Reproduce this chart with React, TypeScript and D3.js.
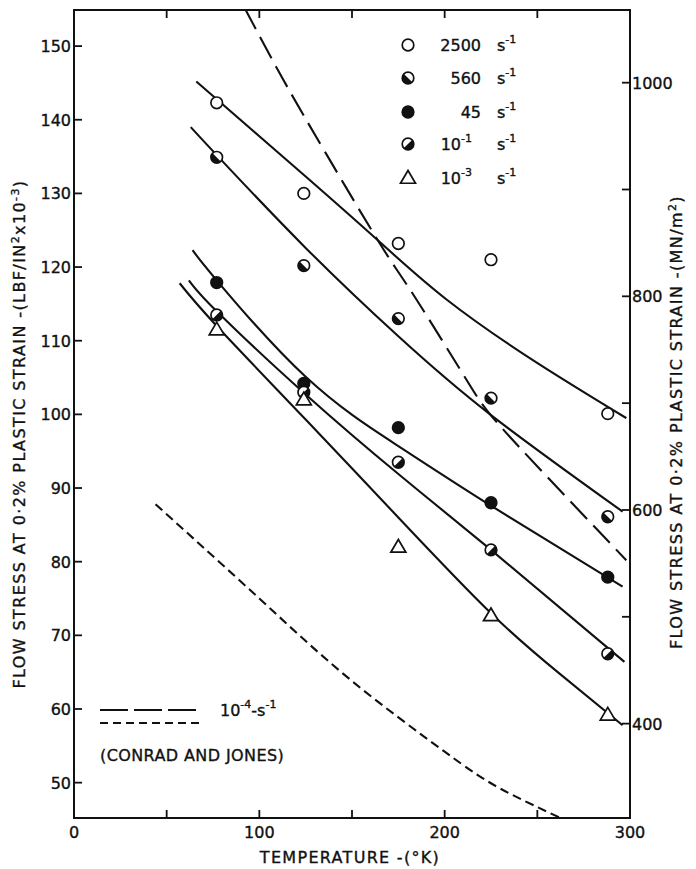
import React from "react";
import * as d3 from "d3";

// ---- axis ticks ----
const tempTicks = [50, 100, 150, 200, 250];
const tempLabels = [0, 100, 200, 300];
const ksiTicks = [50, 60, 70, 80, 90, 100, 110, 120, 130, 140, 150];
const mnTicks = [400, 500, 600, 700, 800, 900, 1000];
const mnLabels = [400, 600, 800, 1000];

// ---- measured points (temperature K, ksi) ----
const temps = [77, 124, 175, 225, 288];
const s2500 = [142.3, 130.0, 123.2, 121.0, 100.1];
const s560 = [134.9, 120.2, 113.0, 102.2, 86.1];
const s45 = [117.9, 104.2, 98.2, 88.0, 77.9];
const s1e1 = [113.5, 103.0, 93.5, 81.6, 67.5];
const s1e3 = [111.5, 102.0, 82.0, 72.7, 59.2];

// ---- hand-drawn fitted curves (T, ksi) ----
const fit2500: [number, number][] = [[66, 145.2], [125, 132.3], [165, 123.4], [201, 115.6], [248, 107.3], [298, 99.5]];
const fit560: [number, number][] = [[63, 139.0], [77, 135.2], [125, 122.6], [175, 110.6], [225, 99.9], [296, 86.8]];
const fit45: [number, number][] = [[64, 122.3], [77, 118.2], [125, 105.1], [175, 95.7], [225, 87.6], [296, 76.6]];
const fit1e1: [number, number][] = [[62, 118.2], [77, 114.0], [125, 102.7], [176, 91.7], [225, 81.6], [297, 66.4]];
const fit1e3: [number, number][] = [[57, 117.8], [77, 112.0], [125, 99.3], [175, 86.0], [225, 73.0], [262, 64.8], [296, 57.8]];
const dash1e4: [number, number][] = [[92, 155.2], [113, 145.4], [136, 135.4], [165, 123.2], [184, 115.9], [212, 104.6], [235, 97], [298, 80.2]];
const conrad: [number, number][] = [[44, 87.8], [100, 75.0], [149, 64.0], [200, 54.2], [230, 49.2], [266, 44.8]];

const legendLabels = ["2500", "560", "45", "10^-1", "10^-3"];
const markerKinds = ["open", "half560", "filled", "half01", "triangle"];

const FONT = "'DejaVu Sans', sans-serif";
const MN_PER_KSI = 6.895;
const INK = "#111";

function Marker({ kind, x, y }: { kind: string; x: number; y: number }) {
  const r = 5.8;
  const a = r * Math.SQRT1_2;
  if (kind === "open") return <circle cx={x} cy={y} r={r} fill="#fff" stroke={INK} strokeWidth={1.7} />;
  if (kind === "filled") return <circle cx={x} cy={y} r={r} fill={INK} stroke={INK} strokeWidth={1.7} />;
  if (kind === "triangle") {
    const s = 7.5;
    return <path d={`M${x},${y - s} L${x + s},${y + s * 0.7} L${x - s},${y + s * 0.7} Z`} fill="#fff" stroke={INK} strokeWidth={1.7} />;
  }
  if (kind === "half560") {
    return (
      <g>
        <circle cx={x} cy={y} r={r} fill="#fff" stroke={INK} strokeWidth={1.7} />
        <path d={`M${x - a},${y - a} A${r},${r} 0 0 0 ${x + a},${y + a} Z`} fill={INK} />
      </g>
    );
  }
  return (
    <g>
      <circle cx={x} cy={y} r={r} fill="#fff" stroke={INK} strokeWidth={1.7} />
      <path d={`M${x - a},${y + a} A${r},${r} 0 0 0 ${x + a},${y - a} Z`} fill={INK} />
    </g>
  );
}

const textStyle = { fontFamily: FONT, fill: INK, stroke: INK, strokeWidth: 0.35 } as const;

function Label({ text, x, y, anchor }: { text: string; x: number; y: number; anchor: string }) {
  if (text.includes("^")) {
    const [base, sup] = text.split("^");
    return (
      <text x={x} y={y} textAnchor={anchor} fontSize={16} {...textStyle}>
        {base}
        <tspan dy={-8} fontSize={11}>{sup}</tspan>
      </text>
    );
  }
  return (
    <text x={x} y={y} textAnchor={anchor} fontSize={16} {...textStyle}>
      {text}
    </text>
  );
}

export default function App() {
  const W = 696, H = 869;
  const L = 74, R = 630, T = 10, B = 818;
  const x = d3.scaleLinear().domain([0, 300]).range([L, R]);
  const y = d3.scaleLinear().domain([45.2, 154.9]).range([B, T]);
  const yMN = (v: number) => y(v / MN_PER_KSI);

  const line = d3
    .line<[number, number]>()
    .x((d) => x(d[0]))
    .y((d) => y(d[1]))
    .curve(d3.curveNatural);

  const series = [s2500, s560, s45, s1e1, s1e3];
  const fits = [fit2500, fit560, fit45, fit1e1, fit1e3];
  const tick = 8;

  return (
    <svg width={W} height={H} style={{ position: "absolute", left: 0, top: 0, background: "#fff" }}>
      <defs>
        <clipPath id="plot">
          <rect x={L} y={T} width={R - L} height={B - T} />
        </clipPath>
      </defs>
      <rect x={0} y={0} width={W} height={H} fill="#fff" />

      {/* frame */}
      <rect x={L} y={T} width={R - L} height={B - T} fill="none" stroke={INK} strokeWidth={2} />

      {/* bottom & top ticks */}
      {tempTicks.map((t) => (
        <g key={"tt" + t}>
          <line x1={x(t)} x2={x(t)} y1={B} y2={B - tick} stroke={INK} strokeWidth={1.8} />
          <line x1={x(t)} x2={x(t)} y1={T} y2={T + tick} stroke={INK} strokeWidth={1.8} />
        </g>
      ))}
      {tempLabels.map((t) => (
        <text key={"tl" + t} x={x(t)} y={B + 20} textAnchor="middle" fontSize={16} {...textStyle}>
          {t}
        </text>
      ))}
      <text x={(L + R) / 2 - 2} y={B + 45} textAnchor="middle" fontSize={16} letterSpacing={1.3} {...textStyle}>
        TEMPERATURE -(°K)
      </text>

      {/* left ticks */}
      {ksiTicks.map((v) => (
        <g key={"kt" + v}>
          <line x1={L} x2={L + tick} y1={y(v)} y2={y(v)} stroke={INK} strokeWidth={1.8} />
          <text x={L - 3} y={y(v) + 6} textAnchor="end" fontSize={16} {...textStyle}>
            {v}
          </text>
        </g>
      ))}

      {/* right ticks */}
      {mnTicks.map((v) => (
        <line key={"mt" + v} x1={R} x2={R - tick} y1={yMN(v)} y2={yMN(v)} stroke={INK} strokeWidth={1.8} />
      ))}
      {mnLabels.map((v) => (
        <text key={"ml" + v} x={R + 2} y={yMN(v) + 6} textAnchor="start" fontSize={16} {...textStyle}>
          {v}
        </text>
      ))}

      {/* axis titles */}
      <text transform={`translate(25, ${(T + B) / 2 + 20}) rotate(-90)`} textAnchor="middle" fontSize={16} letterSpacing={1.4} {...textStyle}>
        FLOW  STRESS  AT  0·2%  PLASTIC  STRAIN -(LBF/IN
        <tspan dy={-6} fontSize={11}>2</tspan>
        <tspan dy={6}>x10</tspan>
        <tspan dy={-6} fontSize={11}>-3</tspan>
        <tspan dy={6}>)</tspan>
      </text>
      <text transform={`translate(682, ${(T + B) / 2 + 8}) rotate(-90)`} textAnchor="middle" fontSize={16} letterSpacing={1.4} {...textStyle}>
        FLOW  STRESS  AT  0·2%  PLASTIC  STRAIN -(MN/m
        <tspan dy={-6} fontSize={11}>2</tspan>
        <tspan dy={6}>)</tspan>
      </text>

      {/* curves */}
      <g clipPath="url(#plot)" fill="none" stroke={INK} strokeWidth={2.1}>
        {fits.map((f, i) => (
          <path key={"f" + i} d={line(f) || ""} />
        ))}
        <path d={line(dash1e4) || ""} strokeDasharray="24,9" />
        <path d={line(conrad) || ""} strokeDasharray="9,5" />
      </g>

      {/* points */}
      {series.map((s, i) =>
        s.map((v, j) => <Marker key={`p${i}-${j}`} kind={markerKinds[i]} x={x(temps[j])} y={y(v)} />)
      )}

      {/* legend top right */}
      {legendLabels.map((lab, i) => {
        const ly = [45, 78, 112, 144, 178][i];
        return (
          <g key={"lg" + i}>
            <Marker kind={markerKinds[i]} x={408} y={ly} />
            <Label text={lab} x={lab.includes("^") ? 472 : 481} y={ly + 6} anchor="end" />
            <text x={497} y={ly + 6} fontSize={16} {...textStyle}>
              s<tspan dy={-8} fontSize={11}>-1</tspan>
            </text>
          </g>
        );
      })}

      {/* legend bottom left */}
      <line x1={100} x2={197} y1={710} y2={710} stroke={INK} strokeWidth={2} strokeDasharray="28,6" />
      <line x1={100} x2={204} y1={723} y2={723} stroke={INK} strokeWidth={2} strokeDasharray="8,5" />
      <text x={220} y={716} fontSize={16} {...textStyle}>
        10<tspan dy={-8} fontSize={11}>-4</tspan>
        <tspan dy={8}>-s</tspan>
        <tspan dy={-8} fontSize={11}>-1</tspan>
      </text>
      <text x={100} y={761} fontSize={16} letterSpacing={0.4} {...textStyle}>
        (CONRAD AND JONES)
      </text>
    </svg>
  );
}
